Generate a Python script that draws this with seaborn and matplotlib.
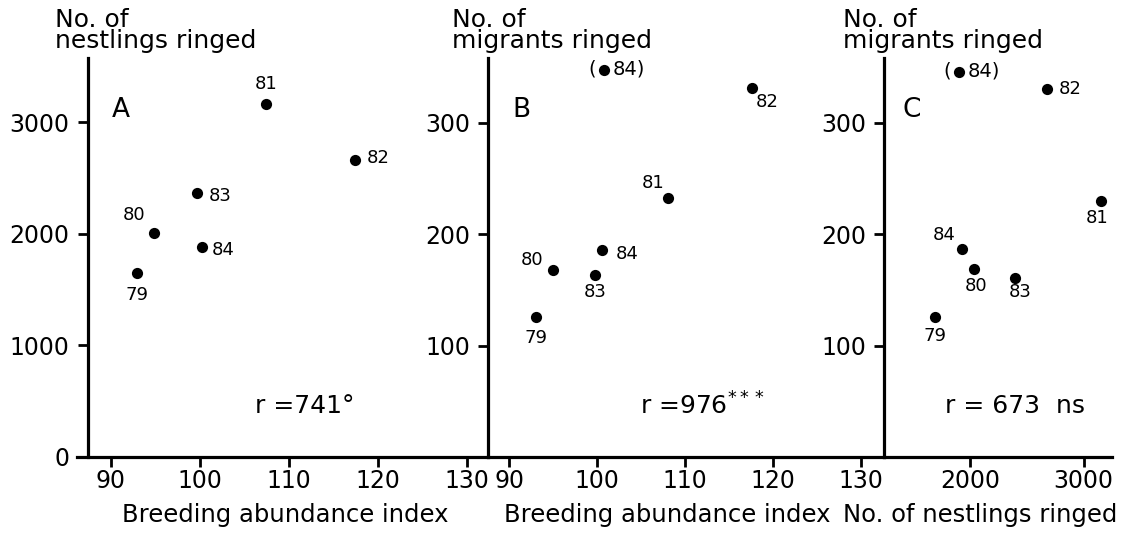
import matplotlib.pyplot as plt
import seaborn as sns
import pandas as pd

# Values (years 1979-1984)
years = ["79", "80", "81", "82", "83", "84"]

# A: breeding abundance index vs nestlings ringed
a_index = [93.0, 94.9, 107.5, 117.4, 99.7, 100.2]
a_nestlings = [1650, 2005, 3165, 2660, 2370, 1880]

# B: breeding abundance index vs migrants ringed
b_index = [93.0, 95.0, 108.0, 117.6, 99.8, 100.6]
b_migrants = [126, 168, 232, 331, 163, 186]
b_outlier = (100.8, 347)  # the bracketed (84) point

# C: nestlings ringed vs migrants ringed
c_nestlings = [1690, 2030, 3150, 2673, 2398, 1929]
c_migrants = [126, 169, 230, 330, 161, 187]
c_outlier = (1903, 345)

r_texts = ["r =741°", "r =976$^{***}$", "r = 673  ns"]

sns.set_style("ticks")
plt.rcParams["font.family"] = ["DejaVu Sans"]
plt.rcParams["text.color"] = "black"
plt.rcParams["axes.edgecolor"] = "black"
plt.rcParams["xtick.color"] = "black"
plt.rcParams["ytick.color"] = "black"
plt.rcParams["xtick.labelcolor"] = "black"
plt.rcParams["ytick.labelcolor"] = "black"

W, H = 1128, 536
fig = plt.figure(figsize=(W / 100, H / 100), dpi=100)


def px_axes(left, right, bottom, top):
    return fig.add_axes([left / W, 1 - bottom / H, (right - left) / W, (bottom - top) / H])


def style(ax, spine_x):
    for s in ["top", "right"]:
        ax.spines[s].set_visible(False)
    ax.spines["left"].set_position(("data", spine_x))
    ax.spines["left"].set_linewidth(2.3)
    ax.spines["bottom"].set_linewidth(2.3)
    ax.tick_params(axis="both", length=7, width=2, labelsize=17, color="black", labelcolor="black")
    ax.tick_params(axis="y", pad=6)
    ax.tick_params(axis="x", pad=2)
    ax.set_xlabel("")
    ax.set_ylabel("")
    ax.patch.set_alpha(0)


def label_points(ax, xs, ys, offsets):
    for x, y, yr in zip(xs, ys, years):
        dx, dy, ha = offsets[yr]
        ax.annotate(yr, (x, y), xytext=(dx, dy), textcoords="offset pixels",
                    ha=ha, va="center", fontsize=13)


def bracket_point(ax, x, y):
    sns.scatterplot(x=[x], y=[y], ax=ax, color="black", s=65, linewidth=0)
    ax.annotate("(", (x, y), xytext=(-8, 1), textcoords="offset pixels",
                ha="right", va="center", fontsize=14)
    ax.annotate("84)", (x, y), xytext=(8, 1), textcoords="offset pixels",
                ha="left", va="center", fontsize=14)


# Panel A
df_a = pd.DataFrame({"index": a_index, "nestlings": a_nestlings})
ax_a = px_axes(77, 488, 457, 58)
sns.scatterplot(data=df_a, x="index", y="nestlings", ax=ax_a, color="black", s=65, linewidth=0)
ax_a.set_xlim(86.2, 132.4)
ax_a.set_ylim(0, 3578)
ax_a.set_xticks([90, 100, 110, 120, 130])
ax_a.set_yticks([0, 1000, 2000, 3000])
style(ax_a, 87.4)
label_points(ax_a, a_index, a_nestlings, {
    "79": (0, -22, "center"), "80": (-20, 18, "center"), "81": (0, 20, "center"),
    "82": (12, 2, "left"), "83": (12, -3, "left"), "84": (10, -3, "left")})

# Panel B
df_b = pd.DataFrame({"index": b_index, "migrants": b_migrants})
ax_b = px_axes(488, 884, 457, 58)
sns.scatterplot(data=df_b, x="index", y="migrants", ax=ax_b, color="black", s=65, linewidth=0)
bracket_point(ax_b, *b_outlier)
ax_b.set_xlim(87.6, 132.6)
ax_b.set_ylim(0, 358)
ax_b.set_xticks([90, 100, 110, 120, 130])
ax_b.set_yticks([100, 200, 300])
style(ax_b, 87.6)
label_points(ax_b, b_index, b_migrants, {
    "79": (0, -21, "center"), "80": (-21, 10, "center"), "81": (-14, 15, "center"),
    "82": (15, -14, "center"), "83": (0, -17, "center"), "84": (13, -4, "left")})

# Panel C
df_c = pd.DataFrame({"nestlings": c_nestlings, "migrants": c_migrants})
ax_c = px_axes(884, 1112, 457, 58)
sns.scatterplot(data=df_c, x="nestlings", y="migrants", ax=ax_c, color="black", s=65, linewidth=0)
bracket_point(ax_c, *c_outlier)
ax_c.set_xlim(1239, 3250)
ax_c.set_ylim(0, 358)
ax_c.set_xticks([2000, 3000])
ax_c.set_yticks([100, 200, 300])
style(ax_c, 1239)
label_points(ax_c, c_nestlings, c_migrants, {
    "79": (0, -19, "center"), "80": (2, -17, "center"), "81": (-4, -17, "center"),
    "82": (12, 0, "left"), "83": (5, -14, "center"), "84": (-18, 14, "center")})

# Panel letters, r values, axis titles
for letter, x in zip("ABC", [121, 521, 912]):
    fig.text(x / W, 1 - 110 / H, letter, fontsize=19, ha="center", va="center")

for txt, x in zip(r_texts, [305, 703, 1015]):
    fig.text(x / W, 1 - 406 / H, txt, fontsize=18, ha="center", va="center")

for txt, x in zip(["No. of\nnestlings ringed", "No. of\nmigrants ringed", "No. of\nmigrants ringed"],
                  [55, 452, 843]):
    fig.text(x / W, 1 - 8 / H, txt, fontsize=18, ha="left", va="top", linespacing=0.85)

for txt, x in zip(["Breeding abundance index", "Breeding abundance index", "No. of nestlings ringed"],
                  [285, 667, 980]):
    fig.text(x / W, 1 - 515 / H, txt, fontsize=17.5, ha="center", va="center")

plt.savefig("out.png", dpi=100)
plt.close()
